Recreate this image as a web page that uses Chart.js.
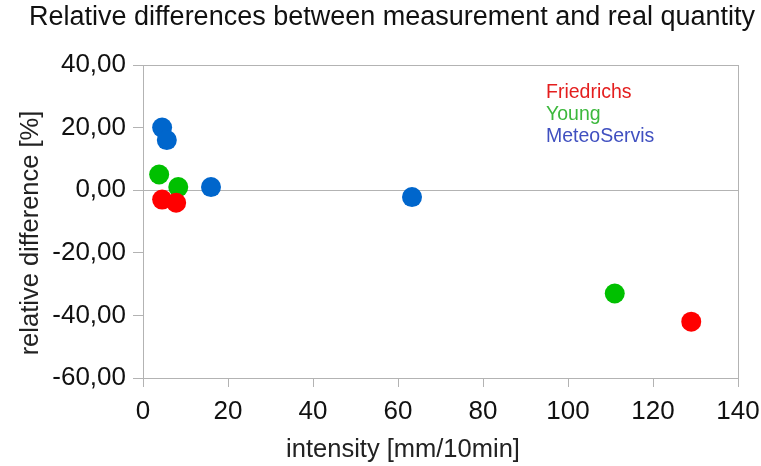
<!DOCTYPE html>
<html>
<head>
<meta charset="utf-8">
<script src="https://cdn.jsdelivr.net/npm/chart.js@4/dist/chart.umd.min.js"></script>
<style>
  html, body { margin: 0; padding: 0; background: #fff; }
  #wrap { width: 761px; height: 466px; }
</style>
</head>
<body>
<div id="wrap"><canvas id="chart"></canvas></div>
<script>
// intensity [mm/10min] vs relative difference [%] per gauge
const seriesNames = ['Friedrichs', 'Young', 'MeteoServis'];
const seriesColors = ['#ff0000', '#00c000', '#0066cc'];
const legendColors = ['#e41e1e', '#3cb83c', '#4050c0'];

const friedrichsX = [4.5, 7.8, 129];
const friedrichsY = [-3, -4, -42];
const youngX = [3.8, 8.3, 111];
const youngY = [5, 1, -33];
const meteoX = [4.5, 5.6, 16, 63.3];
const meteoY = [20, 16, 1, -2.2];

const xTicks = [0, 20, 40, 60, 80, 100, 120, 140];
const yTicks = [-60, -40, -20, 0, 20, 40];

const chartTitle = 'Relative differences between measurement and real quantity';
const xTitle = 'intensity [mm/10min]';
const yTitle = 'relative difference [%]';

const FONT = '"Liberation Sans", Arial, sans-serif';
const GRID = '#b3b3b3';

function pts(xs, ys) {
    return xs.map((x, i) => ({ x: x, y: ys[i] }));
}

const pointSets = [pts(friedrichsX, friedrichsY), pts(youngX, youngY), pts(meteoX, meteoY)];

// titles and the coloured series names, placed like the office chart did
const textLayer = {
    id: 'textLayer',
    afterDraw(chart) {
        const ctx = chart.ctx;
        const area = chart.chartArea;
        ctx.save();

        ctx.fillStyle = '#111';
        ctx.textAlign = 'center';
        ctx.textBaseline = 'alphabetic';
        ctx.font = '27px ' + FONT;
        ctx.fillText(chartTitle, 392, 25);

        ctx.fillStyle = '#222';
        ctx.font = '25.5px ' + FONT;
        ctx.fillText(xTitle, 403, 457);

        ctx.save();
        ctx.translate(31, 233);
        ctx.rotate(-Math.PI / 2);
        ctx.textBaseline = 'middle';
        ctx.fillText(yTitle, 0, 0);
        ctx.restore();

        ctx.font = '19.5px ' + FONT;
        ctx.textAlign = 'left';
        ctx.textBaseline = 'alphabetic';
        seriesNames.forEach((name, i) => {
            ctx.fillStyle = legendColors[i];
            ctx.fillText(name, area.left + 403, area.top + 33 + i * 22);
        });
        ctx.restore();
    }
};

new Chart(document.getElementById('chart'), {
    type: 'scatter',
    data: {
        datasets: seriesNames.map((name, i) => ({
            label: name,
            data: pointSets[i],
            backgroundColor: seriesColors[i],
            borderColor: seriesColors[i],
            pointRadius: 10,
            pointHoverRadius: 10,
            borderWidth: 0
        }))
    },
    options: {
        responsive: true,
        maintainAspectRatio: false,
        animation: false,
        layout: { padding: { left: 0, right: 23, top: 65, bottom: 0 } },
        plugins: {
            legend: { display: false },
            tooltip: { enabled: false },
            title: { display: false }
        },
        scales: {
            x: {
                type: 'linear',
                min: 0,
                max: 140,
                afterBuildTicks: axis => { axis.ticks = xTicks.map(v => ({ value: v })); },
                afterFit: axis => {
                    axis.height = 88;
                    axis.paddingLeft = 0;
                    axis.paddingRight = 0;
                },
                grid: {
                    color: c => (c.tick && c.tick.value === 140) ? GRID : 'rgba(0,0,0,0)',
                    tickColor: GRID,
                    tickLength: 9,
                    lineWidth: 1
                },
                border: { color: GRID },
                ticks: {
                    color: '#111',
                    font: { family: FONT, size: 26 },
                    padding: 9,
                    maxRotation: 0
                }
            },
            y: {
                type: 'linear',
                min: -60,
                max: 40,
                afterBuildTicks: axis => { axis.ticks = yTicks.map(v => ({ value: v })); },
                afterFit: axis => {
                    axis.width = 143;
                    axis.paddingTop = 0;
                    axis.paddingBottom = 0;
                },
                grid: {
                    color: c => (c.tick && (c.tick.value === 0 || c.tick.value === 40)) ? GRID : 'rgba(0,0,0,0)',
                    tickColor: GRID,
                    tickLength: 10,
                    lineWidth: 1
                },
                border: { color: GRID },
                ticks: {
                    color: '#111',
                    font: { family: FONT, size: 26 },
                    padding: 7,
                    callback: v => v.toFixed(2).replace('.', ',')
                }
            }
        }
    },
    plugins: [textLayer]
});
</script>
</body>
</html>
